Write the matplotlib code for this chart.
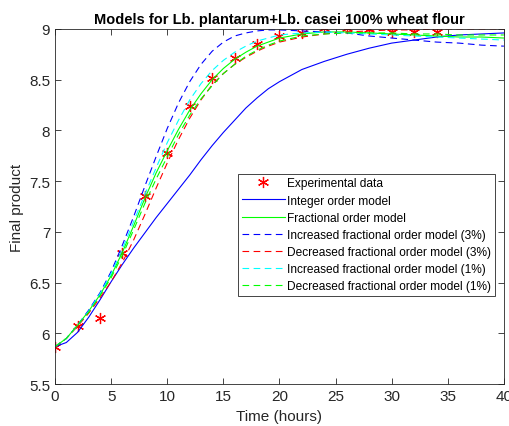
import matplotlib
matplotlib.use("Agg")
import matplotlib.pyplot as plt

plt.rcParams["font.family"] = ["Liberation Sans", "DejaVu Sans"]

# experimental data
t_exp = [0, 2, 4, 6, 8, 10, 12, 14, 16, 18, 20, 22, 24, 26, 28, 30, 32, 34]
y_exp = [5.87, 6.07, 6.15, 6.79, 7.35, 7.78, 8.24, 8.52, 8.71, 8.85, 8.93,
         8.96, 9.01, 9.01, 9.00, 8.97, 8.97, 8.97]

# model curves (hourly up to 20 h, then every 2 h)
t_model = [0, 1, 2, 3, 4, 5, 6, 7, 8, 9, 10, 11, 12, 13, 14, 15, 16, 17, 18, 19, 20,
           22, 24, 26, 28, 30, 32, 34, 36, 38, 40]
integer_model = [5.87, 5.91, 6.01, 6.16, 6.33, 6.51, 6.68, 6.84, 6.99, 7.14, 7.28,
                 7.42, 7.56, 7.71, 7.85, 7.98, 8.10, 8.22, 8.32, 8.41, 8.48,
                 8.60, 8.68, 8.75, 8.81, 8.86, 8.89, 8.92, 8.94, 8.95, 8.96]
fractional_model = [5.87, 5.95, 6.08, 6.22, 6.38, 6.57, 6.80, 7.06, 7.33, 7.58, 7.80,
                    8.01, 8.20, 8.36, 8.50, 8.61, 8.70, 8.77, 8.83, 8.87, 8.91,
                    8.95, 8.97, 8.97, 8.96, 8.95, 8.94, 8.93, 8.92, 8.92, 8.91]
inc3_model = [5.87, 5.95, 6.08, 6.23, 6.40, 6.61, 6.87, 7.15, 7.45, 7.74, 8.02,
              8.27, 8.48, 8.65, 8.78, 8.87, 8.93, 8.96, 8.98, 8.99, 8.99,
              8.98, 8.97, 8.96, 8.93, 8.91, 8.89, 8.87, 8.86, 8.84, 8.83]
dec3_model = [5.87, 5.95, 6.07, 6.20, 6.35, 6.51, 6.70, 6.92, 7.17, 7.43, 7.68,
              7.91, 8.12, 8.30, 8.45, 8.56, 8.65, 8.72, 8.78, 8.83, 8.87,
              8.92, 8.95, 8.97, 8.98, 8.99, 8.99, 9.00, 9.00, 9.00, 9.00]
inc1_model = [5.87, 5.95, 6.08, 6.22, 6.39, 6.59, 6.83, 7.10, 7.37, 7.63, 7.88,
              8.10, 8.30, 8.46, 8.59, 8.69, 8.77, 8.83, 8.88, 8.91, 8.94,
              8.96, 8.97, 8.96, 8.95, 8.94, 8.93, 8.92, 8.91, 8.90, 8.89]
dec1_model = [5.87, 5.95, 6.08, 6.21, 6.37, 6.55, 6.77, 7.02, 7.28, 7.52, 7.74,
              7.96, 8.15, 8.31, 8.44, 8.56, 8.65, 8.73, 8.79, 8.84, 8.88,
              8.93, 8.95, 8.96, 8.96, 8.96, 8.95, 8.95, 8.94, 8.94, 8.94]

AX_COLOR = "#262626"
DASH = (0, (6, 4))

fig = plt.figure(figsize=(5.10, 4.27), dpi=100)
ax = fig.add_axes([0.108, 0.098, 0.880, 0.832])

ax.plot(t_exp, y_exp, linestyle="none", marker=(6, 2, 0), color="red",
        markersize=8, markeredgewidth=0.9, label="Experimental data")
ax.plot(t_model, integer_model, color="blue", lw=0.8, label="Integer order model")
ax.plot(t_model, fractional_model, color="#00ff00", lw=0.8, label="Fractional order model")
ax.plot(t_model, inc3_model, color="blue", lw=0.8, linestyle=DASH,
        label="Increased fractional order model (3%)")
ax.plot(t_model, dec3_model, color="red", lw=0.8, linestyle=DASH,
        label="Decreased fractional order model (3%)")
ax.plot(t_model, inc1_model, color="cyan", lw=0.8, linestyle=DASH,
        label="Increased fractional order model (1%)")
ax.plot(t_model, dec1_model, color="#00ff00", lw=0.8, linestyle=DASH,
        label="Decreased fractional order model (1%)")

ax.set_xlim(0, 40)
ax.set_ylim(5.5, 9)
ax.set_xticks(range(0, 41, 5))
ax.set_yticks([5.5, 6, 6.5, 7, 7.5, 8, 8.5, 9])
ax.set_yticklabels(["5.5", "6", "6.5", "7", "7.5", "8", "8.5", "9"])
ax.tick_params(direction="in", top=True, right=True, length=4, width=0.6,
               colors=AX_COLOR, labelsize=11, labelcolor=AX_COLOR)
for spine in ax.spines.values():
    spine.set_color(AX_COLOR)
    spine.set_linewidth(0.6)

ax.set_xlabel("Time (hours)", fontsize=11, color=AX_COLOR, labelpad=4)
ax.set_ylabel("Final product", fontsize=11, color=AX_COLOR, labelpad=4)
ax.set_title("Models for Lb. plantarum+Lb. casei 100% wheat flour",
             fontsize=10.5, fontweight="bold", pad=4)

leg = ax.legend(loc="upper right", bbox_to_anchor=(0.98, 0.592), borderaxespad=0,
                fontsize=8.6, fancybox=False, framealpha=1, edgecolor=AX_COLOR,
                handlelength=3.6, handletextpad=0.2, labelspacing=0.43,
                borderpad=0.3)
leg.get_frame().set_linewidth(0.6)

fig.savefig("out.png", dpi=100)
